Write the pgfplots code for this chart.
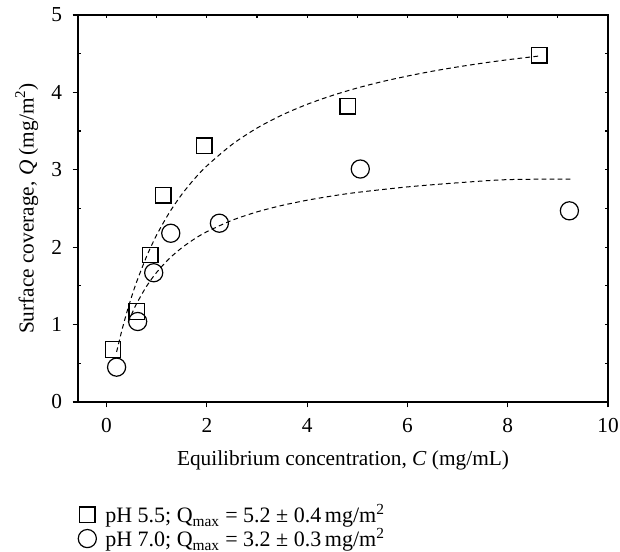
\documentclass[border=0pt]{standalone}
\usepackage{fontspec}
\setmainfont{Liberation Serif}
\usepackage{pgfplots}
\pgfplotsset{compat=1.18}
\begin{document}
\begin{tikzpicture}
\pgfplotsset{
  common/.style={
    scale only axis, width=397.5pt, height=290.25pt,
    xmin=-0.57, xmax=10, ymin=0, ymax=5,
    axis line style={line width=1pt},
  }
}
\begin{axis}[common,
  xtick={0,2,...,10}, ytick={0,1,...,5},
  tick pos=left, tick align=outside,
  major tick length=4pt,
  tick style={line width=0.9pt, black},
  /pgf/number format/assume math mode=true,
  tick label style={font=\fontsize{16}{18}\selectfont},
  xticklabel style={yshift=-5pt},
  yticklabel style={xshift=-4.5pt},
  label style={font=\fontsize{16}{19}\selectfont},
  xlabel={Equilibrium concentration, \textit{C} (mg/mL)},
  ylabel={Surface coverage, \textit{Q} (mg/m\textsuperscript{2})},
  xlabel style={yshift=-6pt},
  ylabel style={yshift=3pt},
  legend style={at={(0,-0.257)}, anchor=north west, draw=none, fill=none, inner sep=0pt,
    font=\fontsize{16.5}{19}\selectfont, row sep=-1.5pt, cells={anchor=west}},
  legend cell align=left,
  legend image code/.code={\path (0pt,0pt) (17pt,0pt); \draw[#1] plot coordinates {(6pt,0pt)};},
]
\coordinate (bl) at (rel axis cs:0,0);
\coordinate (tr) at (rel axis cs:1,1);
\addplot[only marks, mark=square, mark size=5.8pt, line width=0.9pt, black]
 coordinates {(0.13,0.68) (0.6,1.17) (0.87,1.90) (1.13,2.67) (1.95,3.31) (4.81,3.82) (8.63,4.48)};
\addlegendentry{pH 5.5; Q\textsubscript{max} = 5.2 ± 0.4\,mg/m\textsuperscript{2}}
\addplot[only marks, mark=o, mark size=6.8pt, line width=0.9pt, black]
 coordinates {(0.2,0.45) (0.62,1.04) (0.94,1.67) (1.28,2.18) (2.25,2.31) (5.06,3.01) (9.23,2.47)};
\addlegendentry{pH 7.0; Q\textsubscript{max} = 3.2 ± 0.3\,mg/m\textsuperscript{2}}
\addplot[forget plot, black, line width=0.75pt, dash pattern=on 3.5pt off 2.5pt, smooth]
 coordinates {(0.2,0.647) (0.3,0.913) (0.4,1.150) (0.5,1.362) (0.6,1.553) (0.8,1.884) (1.0,2.159) (1.25,2.445) (1.5,2.682) (1.75,2.881) (2,3.051) (2.5,3.326) (3,3.539) (3.5,3.708) (4,3.846) (4.5,3.960) (5,4.057) (5.5,4.140) (6,4.211) (6.5,4.274) (7,4.329) (7.5,4.378) (8,4.422) (8.65,4.472)};
\addplot[forget plot, black, line width=0.75pt, dash pattern=on 3.5pt off 2.5pt, smooth]
 coordinates {(0.43,1.03) (0.5,1.135) (0.6,1.272) (0.8,1.498) (1.0,1.676) (1.25,1.853) (1.5,1.992) (1.75,2.106) (2,2.200) (2.5,2.347) (3,2.456) (3.5,2.540) (4,2.607) (4.5,2.662) (5,2.708) (6,2.779) (7,2.832) (8,2.873) (9.25,2.88)};
\end{axis}
\begin{axis}[common, xtick={0,1,...,10}, ytick={0,0.5,...,5},
  xtick pos=right, ytick pos=right, tick align=inside, major tick length=2pt,
  tick style={line width=0.9pt, black},
  xticklabels={}, yticklabels={}]
\end{axis}
\begin{axis}[common, xtick=\empty, ytick={0.5,1.5,...,4.5},
  ytick pos=left, tick align=inside, major tick length=2pt,
  tick style={line width=0.9pt, black},
  yticklabels={}]
\end{axis}
\pgfresetboundingbox
\path ([xshift=-58.5pt,yshift=-112.5pt]bl) rectangle ([xshift=9pt,yshift=11.25pt]tr);
\end{tikzpicture}
\end{document}
